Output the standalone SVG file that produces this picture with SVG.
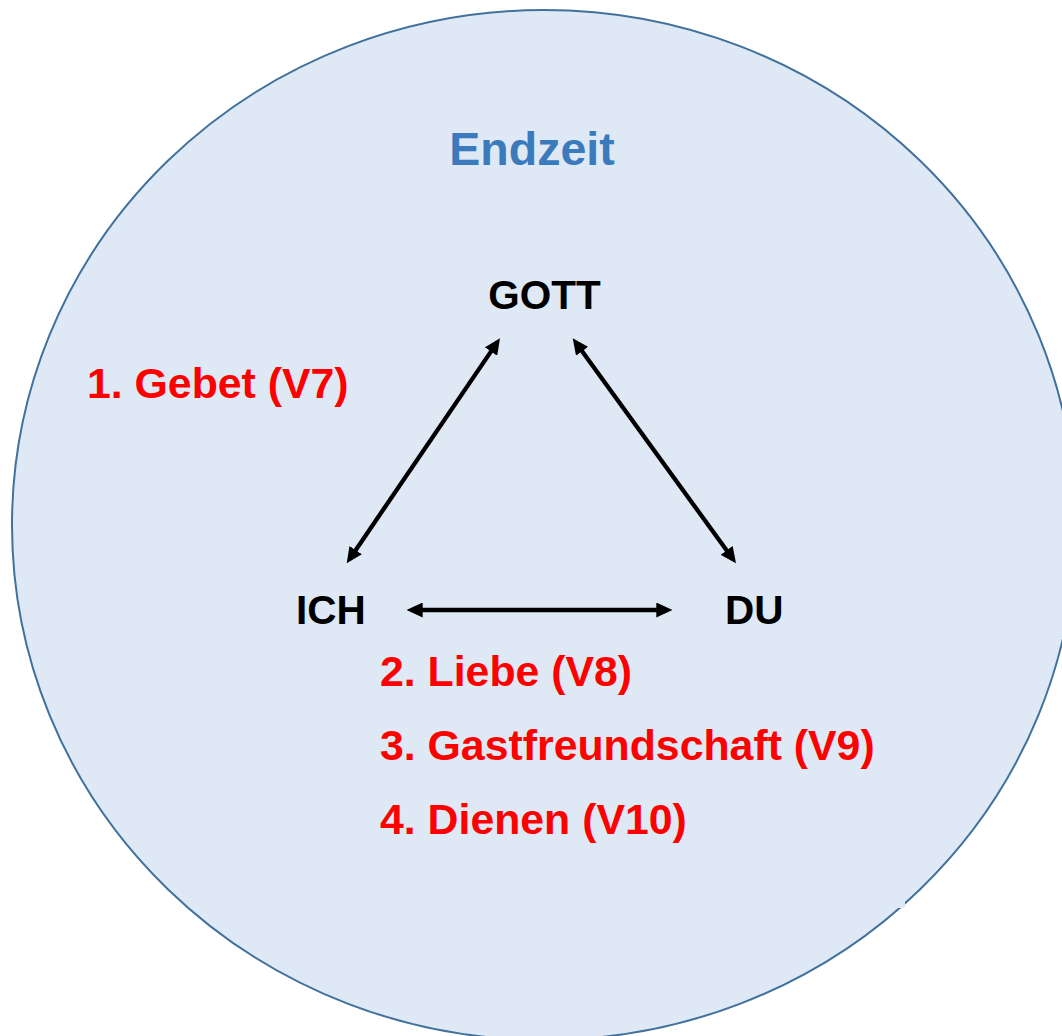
<svg xmlns="http://www.w3.org/2000/svg" width="1062" height="1036" viewBox="0 0 1062 1036">
  <style>
    .node { font-family: "Liberation Sans", Arial, sans-serif; font-weight: bold; font-size: 40.5px; fill: #000000; }
    .item { font-family: "Liberation Sans", Arial, sans-serif; font-weight: bold; font-size: 42.8px; fill: #ff0000; }
    .title { font-family: "Liberation Sans", Arial, sans-serif; font-weight: bold; font-size: 46.5px; fill: #3a7abd; }
    .conn { stroke: #000000; stroke-width: 4.3; fill: none; marker-start: url(#arrow); marker-end: url(#arrow); }
  </style>
  <defs>
    <marker id="arrow" markerUnits="userSpaceOnUse" markerWidth="16" markerHeight="15" refX="8" refY="7.5" orient="auto-start-reverse" viewBox="0 0 16 15">
      <path d="M0,0 L16,7.5 L0,15 Z" fill="#000000"/>
    </marker>
  </defs>
  <rect x="0" y="0" width="1062" height="1036" fill="#ffffff"/>
  <g id="endzeit-circle">
    <ellipse cx="544" cy="525" rx="532" ry="515" fill="#dee9f5" stroke="#41719c" stroke-width="2"/>
    <rect x="893" y="897" width="12" height="11" fill="#dee9f5"/>
    <text class="title" x="532" y="165" text-anchor="middle">Endzeit</text>
  </g>
  <g id="connectors">
    <line class="conn" x1="495.5" y1="344.9" x2="351.2" y2="556.7"/>
    <line class="conn" x1="577.4" y1="344.8" x2="731.3" y2="556.8"/>
    <line class="conn" x1="414.7" y1="610" x2="664.3" y2="610"/>
  </g>
  <g id="node-gott">
    <text class="node" x="544.5" y="309" text-anchor="middle">GOTT</text>
  </g>
  <g id="node-ich">
    <text class="node" x="296" y="624">ICH</text>
  </g>
  <g id="node-du">
    <text class="node" x="725" y="624">DU</text>
  </g>
  <g id="label-gebet">
    <text class="item" x="87" y="398">1. Gebet (V7)</text>
  </g>
  <g id="label-list">
    <text class="item" x="380" y="686">2. Liebe (V8)</text>
    <text class="item" x="380" y="760">3. Gastfreundschaft (V9)</text>
    <text class="item" x="380" y="834">4. Dienen (V10)</text>
  </g>
</svg>
